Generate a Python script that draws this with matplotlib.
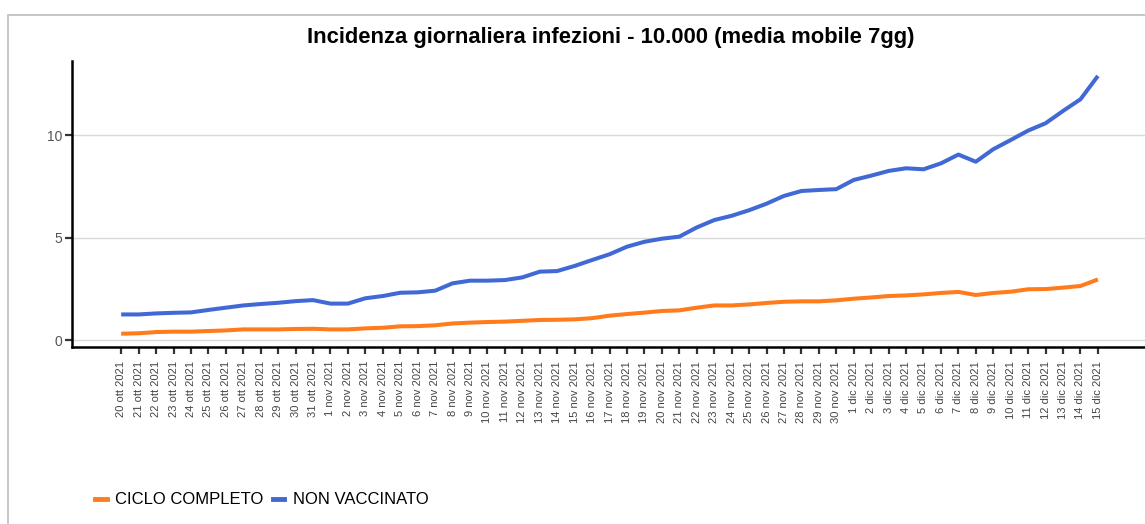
import matplotlib
matplotlib.use("Agg")
import matplotlib.pyplot as plt
from matplotlib.patches import Rectangle
from matplotlib.lines import Line2D

plt.rcParams['font.family'] = ['Liberation Sans', 'DejaVu Sans']

# ---- data ----
oct_days = [f"{d} ott 2021" for d in range(20, 32)]
nov_days = [f"{d} nov 2021" for d in range(1, 31)]
dec_days = [f"{d} dic 2021" for d in range(1, 16)]
dates = oct_days + nov_days + dec_days

non_vaccinato = [
    1.25, 1.25, 1.30, 1.33, 1.35, 1.47, 1.58, 1.69, 1.76, 1.82, 1.90, 1.95,
    1.78, 1.78, 2.04, 2.15, 2.31, 2.33, 2.41, 2.77, 2.90, 2.90, 2.93, 3.06,
    3.34, 3.37, 3.62, 3.91, 4.19, 4.56, 4.80, 4.95, 5.05, 5.50, 5.86, 6.07,
    6.34, 6.66, 7.04, 7.28, 7.33, 7.37,
    7.82, 8.03, 8.26, 8.39, 8.34, 8.63, 9.06, 8.71, 9.32, 9.77, 10.23, 10.59,
    11.19, 11.76, 12.90,
]
ciclo_completo = [
    0.31, 0.33, 0.39, 0.41, 0.41, 0.44, 0.47, 0.52, 0.52, 0.52, 0.54, 0.55,
    0.52, 0.52, 0.57, 0.60, 0.67, 0.68, 0.72, 0.81, 0.85, 0.88, 0.90, 0.94,
    0.98, 0.99, 1.01, 1.07, 1.19, 1.27, 1.34, 1.42, 1.45, 1.58, 1.69, 1.69,
    1.74, 1.81, 1.87, 1.89, 1.89, 1.94,
    2.02, 2.08, 2.15, 2.18, 2.23, 2.30, 2.35, 2.20, 2.30, 2.36, 2.48, 2.49,
    2.56, 2.64, 2.96,
]
series_names = ["CICLO COMPLETO", "NON VACCINATO"]
colors = ["#FF7B1C", "#4169D6"]
title = "Incidenza giornaliera infezioni - 10.000 (media mobile 7gg)"
yticks = [0, 5, 10]

# ---- figure ----
fig = plt.figure(figsize=(11.45, 5.24), dpi=100)
ax = fig.add_axes([72 / 1145, 1 - 347 / 524, 1 - 72 / 1145, (347 - 61) / 524])

x = list(range(len(dates)))
ax.plot(x, ciclo_completo, color=colors[0], lw=2.9, solid_capstyle='butt', zorder=3)
ax.plot(x, non_vaccinato, color=colors[1], lw=2.9, solid_capstyle='butt', zorder=3)

ax.set_xlim(-2.82, 58.7)
ax.set_ylim(-0.34, 13.63)

ax.set_yticks(yticks)
ax.set_yticklabels([str(v) for v in yticks])
ax.yaxis.grid(True, color="#D9D9D9", lw=1)
ax.set_axisbelow(True)

ax.set_xticks(x)
ax.set_xticklabels(dates, rotation=90, fontsize=8.0, color="#444444")
ax.tick_params(axis='x', length=5, width=1.6, color="#333333", pad=5)
ax.tick_params(axis='y', length=5, width=1.6, color="#333333", labelsize=10,
               labelcolor="#555555", pad=2)

for s in ['top', 'right']:
    ax.spines[s].set_visible(False)
ax.spines['left'].set_linewidth(1.8)
ax.spines['bottom'].set_linewidth(1.8)
ax.spines['left'].set_color("black")
ax.spines['bottom'].set_color("black")

fig.text(0.533, 1 - 38 / 524, title, ha='center', va='center',
         fontsize=15.8, fontweight='bold', color='black')

# outer border
fig.patches.append(Rectangle((8 / 1145, -0.01), 1.0, 1 - 15 / 524 + 0.01,
                             transform=fig.transFigure, fill=False,
                             edgecolor="#BDBDBD", lw=1.2))

handles = [Line2D([], [], color=c, lw=3.5) for c in colors]
fig.legend(handles, series_names, loc='center left',
           bbox_to_anchor=(80 / 1145, 1 - 500 / 524), ncol=2, frameon=False,
           handlelength=0.7, handletextpad=0.5, columnspacing=0.55,
           fontsize=12)

fig.savefig("out.png", dpi=100)
